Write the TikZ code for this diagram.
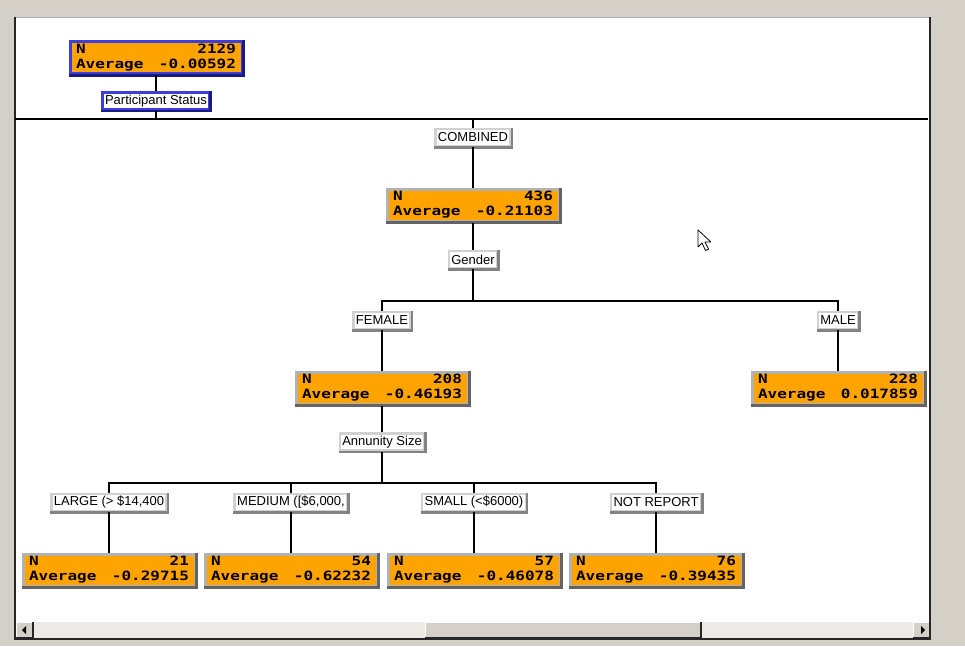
\documentclass[tikz,border=0pt]{standalone}
\usepackage{fontspec}
\newfontfamily\statfont[FakeStretch=1.25]{DejaVu Sans Mono}
\newfontfamily\labelfont{Liberation Sans}
\definecolor{wingray}{RGB}{212,208,200}
\definecolor{trackgray}{RGB}{236,234,229}
\definecolor{statorange}{RGB}{255,163,0}
\definecolor{edgelight}{RGB}{178,178,178}
\definecolor{edgedark}{RGB}{100,100,100}
\definecolor{rootblue}{RGB}{62,62,220}
\definecolor{rootnavy}{RGB}{26,26,128}

\begin{document}
\begin{tikzpicture}[x=1pt,y=-1pt,
    statbox/.style={draw=edgelight, line width=3pt, fill=statorange,
        minimum width=172pt, minimum height=32pt, inner xsep=6pt, inner ysep=0pt,
        text width=160pt, font=\statfont\bfseries\fontsize{12.8}{15}\selectfont},
    splitlabel/.style={draw=edgelight!60, line width=2.5pt, fill=white,
        minimum height=17pt, inner xsep=2.5pt, inner ysep=1pt,
        font=\labelfont\fontsize{13}{14}\selectfont},
    link/.style={line width=2pt}]
    \useasboundingbox (0,0) rectangle (965,646);

    % window
    \fill[wingray] (0,0) rectangle (965,646);
    \fill[white] (15,17) rectangle (930,622);
    \fill[trackgray] (16,622) rectangle (930,638);
    \draw[gray!60, line width=1pt] (15,17) -- (930,17);
    \draw[gray!30!black, line width=1.5pt] (15,17) -- (15,639) -- (930,639) -- (930,17);

    % scroll bar
    \foreach \a/\b in {16/33,425/701,913/930} {
        \fill[wingray] (\a,622) rectangle (\b,638);
        \draw[white, line width=1pt] (\a,638) -- (\a,622.5) -- (\b,622.5);
        \draw[gray!30!black, line width=1.5pt] (\a,638) -- (\b,638) -- (\b,622);
    }
    \fill (22,630) -- (26,626) -- (26,634) -- cycle;
    \fill (925,630) -- (921,626) -- (921,634) -- cycle;

    % tree nodes
    \node[statbox, draw=rootblue] (root) at (156,57.5) {N\hfill 2129\\Average\hfill -0.00592};
    \node[splitlabel, draw=rootblue] (status) at (156,101) {Participant Status};

    \node[splitlabel] (comb) at (473,137.5) {COMBINED};
    \node[statbox] (combstat) at (473,205) {N\hfill 436\\Average\hfill -0.21103};
    \node[splitlabel] (gender) at (473,259.5) {Gender};

    \node[splitlabel] (female) at (382,320.5) {FEMALE};
    \node[splitlabel] (male) at (838,320.5) {MALE};
    \node[statbox] (femstat) at (382,388) {N\hfill 208\\Average\hfill -0.46193};
    \node[statbox] (malestat) at (838,388) {N\hfill 228\\Average\hfill 0.017859};
    \node[splitlabel] (annuity) at (382,442) {Annunity Size};

    \node[splitlabel] (large) at (109,502.5) {LARGE (> \$14,400};
    \node[splitlabel] (medium) at (291,502.5) {MEDIUM ([\$6,000,};
    \node[splitlabel] (small) at (474,502.5) {SMALL (<\$6000)};
    \node[splitlabel] (notrep) at (656,502.5) {NOT REPORT};
    \node[statbox] (largestat) at (109,570) {N\hfill 21\\Average\hfill -0.29715};
    \node[statbox] (mediumstat) at (291,570) {N\hfill 54\\Average\hfill -0.62232};
    \node[statbox] (smallstat) at (474,570) {N\hfill 57\\Average\hfill -0.46078};
    \node[statbox] (notrepstat) at (656,570) {N\hfill 76\\Average\hfill -0.39435};

    % shaded lower and right edges
    \foreach \n in {combstat,femstat,malestat,largestat,mediumstat,smallstat,notrepstat}
    \draw[edgedark, line width=3pt] (\n.north east) -- (\n.south east) -- (\n.south west);
    \foreach \n in {comb,gender,female,male,annuity,large,medium,small,notrep}
    \draw[edgedark!80, line width=2.5pt] (\n.north east) -- (\n.south east) -- (\n.south west);
    \draw[rootnavy, line width=3pt] (root.north east) -- (root.south east) -- (root.south west);
    \draw[rootnavy, line width=2.5pt] (status.north east) -- (status.south east) -- (status.south west);

    % connectors
    \coordinate (cut) at (15,119);
    \coordinate (cutend) at (928,119);
    \coordinate (gsplit) at (473,301);
    \coordinate (asplit) at (382,483);
    \draw[link] (cut) -- (cutend);
    \draw[link] (root) -- (status);
    \draw[link] (status) -- (status |- cut);
    \draw[link] (comb |- cut) -- (comb);
    \draw[link] (comb) -- (combstat);
    \draw[link] (combstat) -- (gender);
    \draw[link] (gender) -- (gsplit);
    \draw[link] (female.north) |- (gsplit) -| (male.north);
    \draw[link] (female) -- (femstat);
    \draw[link] (male) -- (malestat);
    \draw[link] (femstat) -- (annuity);
    \draw[link] (annuity) -- (asplit);
    \draw[link] (large.north) |- (asplit) -| (notrep.north);
    \draw[link] (medium.north) -- (medium.north |- asplit);
    \draw[link] (small.north) -- (small.north |- asplit);
    \foreach \n in {large,medium,small,notrep}
    \draw[link] (\n) -- (\n stat);

    % mouse pointer
    \draw[fill=white, line width=0.8pt, line join=round] (698,230) -- ++(0,17) -- ++(4,-4)
        -- ++(3.5,7.5) -- ++(3,-1.4) -- ++(-3.5,-7.2) -- ++(5.8,0) -- cycle;
\end{tikzpicture}
\end{document}
